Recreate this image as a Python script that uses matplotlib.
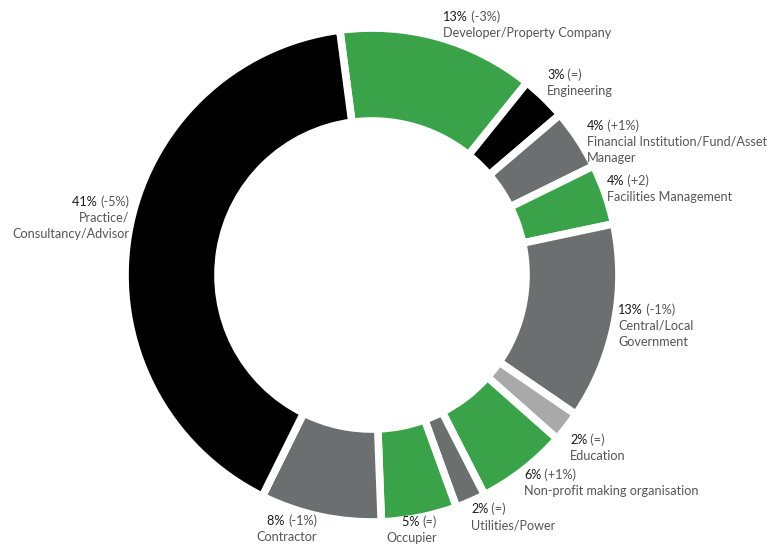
import matplotlib.pyplot as plt

plt.rcParams['font.family'] = ['Lato', 'DejaVu Sans']

sectors = ['Developer/Property Company', 'Engineering',
           'Financial Institution/Fund/Asset\nManager', 'Facilities Management',
           'Central/Local\nGovernment', 'Education', 'Non-profit making organisation',
           'Utilities/Power', 'Occupier', 'Contractor', 'Practice/\nConsultancy/Advisor']
shares = [13, 3, 4, 4, 13, 2, 6, 2, 5, 8, 41]
changes = ['(-3%)', '(=)', '(+1%)', '(+2)', '(-1%)', '(=)', '(+1%)', '(=)', '(=)', '(-1%)', '(-5%)']

BLACK, GREEN, GREY, LIGHT = '#000000', '#3aa34a', '#6c6f70', '#a9a9a9'
colors = [GREEN, BLACK, GREY, GREEN, GREY, LIGHT, GREEN, GREY, GREEN, GREY, BLACK]

# label anchor (pixel x, pixel y from top of first line) and alignment
label_pos = [(443, 17, 'left'), (547, 75, 'left'), (587, 126, 'left'), (607, 181, 'left'),
             (618, 310, 'left'), (570, 440, 'left'), (524, 475, 'left'), (471, 509, 'left'),
             (437, 522, 'right'), (317, 521, 'right'), (129, 202, 'right')]

W, H = 777, 546
fig = plt.figure(figsize=(W / 100, H / 100), dpi=100)
ax = fig.add_axes([0, 0, 1, 1])

cx, cy = 372, 275
ax.pie(shares, colors=colors, startangle=97.5, counterclock=False,
       center=(cx, -cy), radius=247,
       wedgeprops=dict(width=93, edgecolor='white', linewidth=5.5))
# y values are negative so the pixel layout reads top-down
ax.set_xlim(0, W)
ax.set_ylim(-H, 0)
ax.set_aspect('equal')
ax.axis('off')

fs = 9.1
line_h = 16
for name, pct, chg, (x, y, ha) in zip(sectors, shares, changes, label_pos):
    if ha == 'left':
        t = ax.text(x, -y, f'{pct}%', fontsize=fs, color='#1a1a1a', ha='left', va='center')
        ax.annotate(' ' + chg, xy=(1, 0), xycoords=t, fontsize=fs, color='#555555',
                    ha='left', va='bottom')
    else:
        t = ax.text(x, -y, chg, fontsize=fs, color='#555555', ha='right', va='center')
        ax.annotate(f'{pct}% ', xy=(0, 0), xycoords=t, fontsize=fs, color='#1a1a1a',
                    ha='right', va='bottom')
    for i, line in enumerate(name.split('\n')):
        ax.text(x, -(y + line_h * (i + 1)), line, fontsize=fs, color='#555555',
                ha=ha, va='center')

fig.savefig('out.png', dpi=100)
